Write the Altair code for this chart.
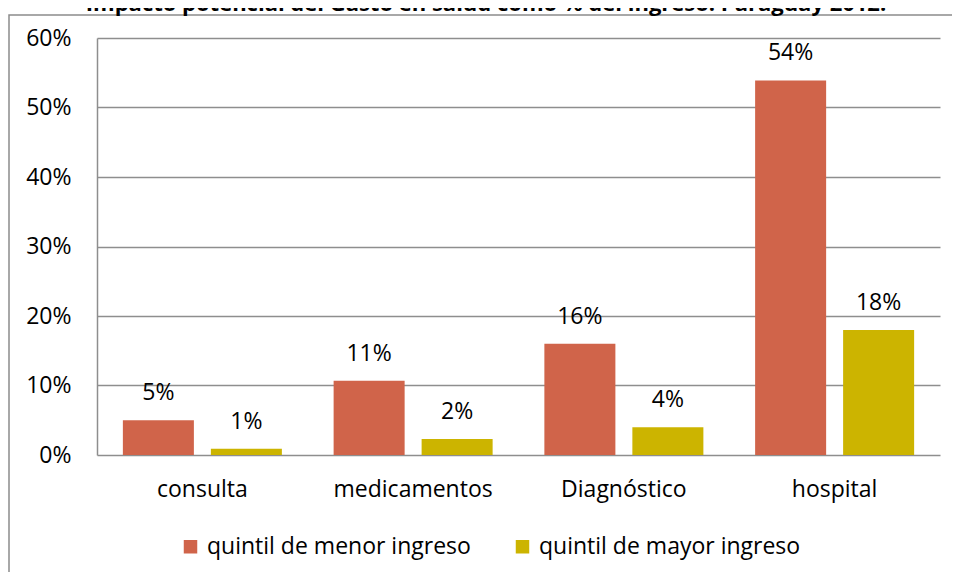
import altair as alt
import pandas as pd

title_text = "Impacto potencial del Gasto en salud como % del ingreso. Paraguay 2012."
categories = ["consulta", "medicamentos", "Diagnóstico", "hospital"]
series = ["quintil de menor ingreso", "quintil de mayor ingreso"]
menor = [0.050, 0.107, 0.160, 0.539]
mayor = [0.009, 0.023, 0.040, 0.180]
colors = ["#D0644A", "#CCB400"]
y_ticks = [0, 0.1, 0.2, 0.3, 0.4, 0.5, 0.6]

rows = []
for c, a, b in zip(categories, menor, mayor):
    rows.append({"cat": c, "serie": series[0], "value": a})
    rows.append({"cat": c, "serie": series[1], "value": b})
df = pd.DataFrame(rows)

FONT = "Open Sans"
FS = 23
GRID = "#8e8e8e"

x_enc = alt.X("cat:N", sort=categories, title=None,
              scale=alt.Scale(paddingInner=0, paddingOuter=0),
              axis=alt.Axis(labelAngle=0, domain=False, ticks=False,
                            labelFont=FONT, labelFontSize=FS, labelColor="#000000",
                            labelPadding=23))
xo_enc = alt.XOffset("serie:N", sort=series,
                     scale=alt.Scale(paddingInner=0.193, paddingOuter=0.294))
y_enc = alt.Y("value:Q", title=None,
              scale=alt.Scale(domain=[0, 0.6], nice=False),
              axis=alt.Axis(values=y_ticks, format=".0%", ticks=False,
                            domainColor=GRID, domainWidth=1.5,
                            gridColor=GRID, gridWidth=1.5,
                            labelFont=FONT, labelFontSize=FS, labelColor="#000000",
                            labelPadding=26))

bars = alt.Chart(df).mark_bar().encode(
    x=x_enc,
    xOffset=xo_enc,
    y=y_enc,
    color=alt.Color("serie:N", sort=series,
                    scale=alt.Scale(domain=series, range=colors),
                    legend=alt.Legend(title=None, orient="none", direction="horizontal",
                                      legendX=82, legendY=497,
                                      symbolType="square", symbolSize=182,
                                      symbolStrokeWidth=0, symbolOpacity=1,
                                      labelFont=FONT, labelFontSize=FS, labelLimit=0,
                                      labelColor="#000000", labelOffset=5,
                                      columnPadding=40, padding=0)),
)

labels = alt.Chart(df).mark_text(font=FONT, fontSize=FS, color="#000000",
                                 baseline="middle", dy=-27).encode(
    x=alt.X("cat:N", sort=categories),
    xOffset=alt.XOffset("serie:N", sort=series),
    y=alt.Y("value:Q"),
    text=alt.Text("value:Q", format=".0%"),
)

frame = alt.Chart(pd.DataFrame({"k": [0]})).mark_rect(
    fillOpacity=0, stroke="#8c8c8c", strokeWidth=1.5
).encode(x=alt.value(-88), x2=alt.value(900), y=alt.value(-23), y2=alt.value(600))

title = alt.Chart(pd.DataFrame({"t": [title_text]})).mark_text(
    font=FONT, fontSize=22, fontWeight="bold", color="#000000",
    baseline="alphabetic", align="center"
).encode(x=alt.value(389), y=alt.value(-27), text="t:N")

chart = alt.layer(frame, bars, labels, title).properties(
    width=843, height=417,
    autosize=alt.AutoSizeParams(type="none"),
    padding={"left": 89, "top": 30, "right": 12, "bottom": 117},
    background="#ffffff",
).configure_view(stroke=None)

chart.save("out.html", embed_options={"renderer": "svg", "actions": False})
